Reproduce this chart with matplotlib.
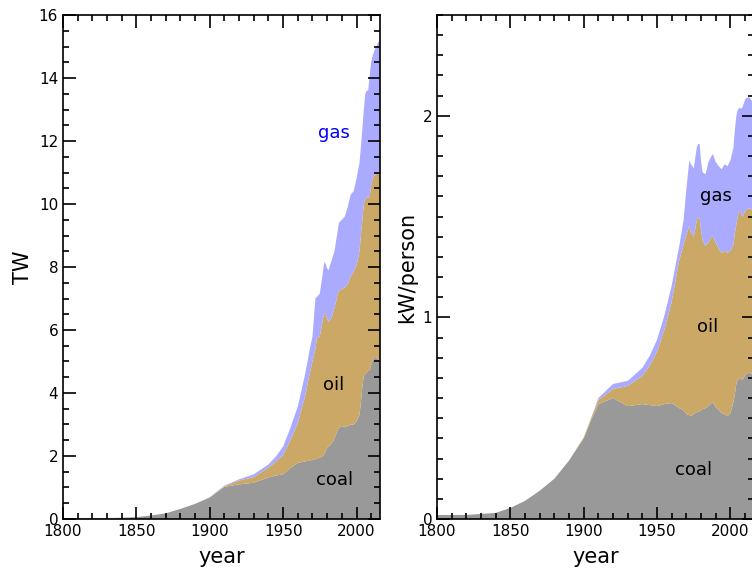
import numpy as np
import matplotlib
matplotlib.use("Agg")
import matplotlib.pyplot as plt
from matplotlib.ticker import MultipleLocator

######## Data
years = [1800, 1810, 1820, 1830, 1840, 1850, 1860, 1870, 1880, 1890,
         1900, 1905, 1910, 1920, 1930, 1940, 1945, 1950, 1955, 1960,
         1965, 1968, 1970, 1972, 1973, 1975, 1977, 1978, 1979, 1980,
         1981, 1983, 1985, 1987, 1988, 1990, 1992, 1994, 1996, 1998,
         2000, 2002, 2003, 2004, 2005, 2006, 2007, 2008, 2009, 2010,
         2011, 2012, 2013, 2014, 2015, 2016]

### total power, TW
coal_tw = [0.02, 0.02, 0.03, 0.03, 0.04, 0.06, 0.11, 0.18, 0.32, 0.48,
           0.68, 0.85, 1.02, 1.10, 1.15, 1.32, 1.38, 1.42, 1.62, 1.78,
           1.83, 1.85, 1.88, 1.90, 1.92, 1.95, 2.00, 2.05, 2.15, 2.25,
           2.30, 2.40, 2.55, 2.80, 2.90, 2.95, 2.92, 2.95, 3.00, 3.00,
           3.10, 3.30, 3.70, 4.20, 4.55, 4.60, 4.65, 4.70, 4.70, 4.90,
           5.05, 5.10, 5.15, 5.10, 5.05, 5.05]
oil_tw = [0, 0, 0, 0, 0, 0, 0, 0, 0, 0,
          0.01, 0.02, 0.02, 0.12, 0.18, 0.31, 0.44, 0.61, 0.88, 1.26,
          2.07, 2.75, 3.12, 3.50, 3.83, 3.85, 4.30, 4.50, 4.35, 4.10,
          3.95, 4.00, 4.15, 4.30, 4.35, 4.35, 4.43, 4.50, 4.70, 4.85,
          4.95, 5.20, 5.30, 5.30, 5.45, 5.55, 5.55, 5.50, 5.55, 5.70,
          5.75, 5.80, 5.80, 5.85, 5.95, 5.95]
gas_tw = [0, 0, 0, 0, 0, 0, 0, 0, 0, 0,
          0.0, 0.01, 0.02, 0.04, 0.09, 0.10, 0.16, 0.27, 0.40, 0.53,
          0.70, 0.75, 0.80, 1.60, 1.30, 1.35, 1.50, 1.60, 1.60, 1.60,
          1.65, 1.80, 1.80, 2.00, 2.15, 2.20, 2.25, 2.45, 2.60, 2.55,
          2.75, 2.80, 2.80, 2.90, 3.00, 3.35, 3.40, 3.40, 3.85, 3.90,
          3.90, 3.95, 4.00, 4.10, 4.15, 4.20]

### per person, kW
coal_pc = [0.02, 0.02, 0.02, 0.025, 0.03, 0.055, 0.09, 0.14, 0.20, 0.29,
           0.40, 0.49, 0.57, 0.60, 0.56, 0.57, 0.565, 0.56, 0.57, 0.575,
           0.55, 0.54, 0.52, 0.515, 0.51, 0.52, 0.53, 0.53, 0.535, 0.54,
           0.545, 0.55, 0.56, 0.575, 0.58, 0.555, 0.54, 0.525, 0.52, 0.51,
           0.525, 0.58, 0.62, 0.67, 0.69, 0.70, 0.695, 0.69, 0.70, 0.715,
           0.72, 0.725, 0.725, 0.72, 0.72, 0.72]
oil_pc = [0, 0, 0, 0, 0, 0, 0, 0, 0, 0,
          0.005, 0.01, 0.02, 0.045, 0.10, 0.14, 0.195, 0.27, 0.37, 0.505,
          0.73, 0.82, 0.89, 0.94, 0.91, 0.88, 0.95, 0.97, 0.955, 0.89,
          0.835, 0.805, 0.81, 0.825, 0.82, 0.815, 0.80, 0.795, 0.81, 0.81,
          0.805, 0.78, 0.80, 0.79, 0.81, 0.83, 0.825, 0.81, 0.81, 0.815,
          0.815, 0.815, 0.815, 0.815, 0.81, 0.81]
gas_pc = [0, 0, 0, 0, 0, 0, 0, 0, 0, 0,
          0, 0, 0.01, 0.025, 0.025, 0.04, 0.05, 0.06, 0.07, 0.08,
          0.07, 0.12, 0.23, 0.325, 0.34, 0.34, 0.36, 0.36, 0.37, 0.34,
          0.34, 0.355, 0.40, 0.40, 0.41, 0.40, 0.41, 0.415, 0.43, 0.43,
          0.45, 0.48, 0.51, 0.54, 0.53, 0.51, 0.515, 0.54, 0.55, 0.55,
          0.555, 0.55, 0.55, 0.545, 0.54, 0.54]

colors = ["#999999", "#cba866", "#aaaaff"]

######## Plotting
def styleAxes(ax, ymax, ymajor, yminor):
    ax.set_xlim(1800, 2016)
    ax.set_ylim(0, ymax)
    ax.xaxis.set_major_locator(MultipleLocator(50))
    ax.xaxis.set_minor_locator(MultipleLocator(10))
    ax.yaxis.set_major_locator(MultipleLocator(ymajor))
    ax.yaxis.set_minor_locator(MultipleLocator(yminor))
    ax.tick_params(which='both', direction='in', top=True, right=True, labelsize=11, width=1.2)
    ax.tick_params(which='major', length=9)
    ax.tick_params(which='minor', length=4.5)
    for sp in ax.spines.values():
        sp.set_linewidth(1.2)
    ax.set_xlabel("year", fontsize=15, labelpad=6)

fig = plt.figure(figsize=(7.52, 5.69), dpi=100)
ax1 = fig.add_axes([0.0838, 0.0879, 0.4215, 0.8857])
ax2 = fig.add_axes([0.5811, 0.0879, 0.4215, 0.8857])

ax1.stackplot(years, coal_tw, oil_tw, gas_tw, colors=colors, linewidth=0)
styleAxes(ax1, 16, 2, 0.5)
ax1.set_ylabel("TW", fontsize=15)
ax1.text(1984.5, 12.25, "gas", color="#0000ff", fontsize=13, ha='center', va='center')
ax1.text(1984.5, 4.25, "oil", color="black", fontsize=13, ha='center', va='center')
ax1.text(1985, 1.24, "coal", color="black", fontsize=13, ha='center', va='center')

ax2.stackplot(years, coal_pc, oil_pc, gas_pc, colors=colors, linewidth=0)
styleAxes(ax2, 2.5, 1, 0.1)
ax2.set_ylabel("kW/person", fontsize=15)
ax2.text(1990, 1.6, "gas", color="black", fontsize=13, ha='center', va='center')
ax2.text(1984.5, 0.95, "oil", color="black", fontsize=13, ha='center', va='center')
ax2.text(1975, 0.245, "coal", color="black", fontsize=13, ha='center', va='center')

fig.savefig("out.png", dpi=100)
